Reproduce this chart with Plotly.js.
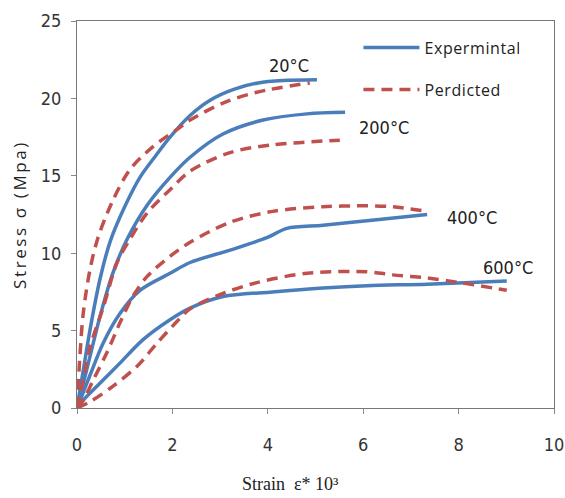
<!DOCTYPE html>
<html>
<head>
<meta charset="utf-8">
<script src="https://cdn.plot.ly/plotly-3.0.1.min.js"></script>
<style>
html,body{margin:0;padding:0;background:#fff;}
#chart{width:565px;height:498px;}
#chart .ytitle{letter-spacing:2.6px;}
#chart .legendtext{letter-spacing:0.6px;}
</style>
</head>
<body>
<div id="chart"></div>
<script>
// Experimental curves
const exp20_x = [0, 0.13, 0.27, 0.48, 0.7, 1.0, 1.32, 1.65, 1.95, 2.37, 2.8, 3.3, 3.8, 4.32, 5.03];
const exp20_y = [0, 2.4, 5.0, 8.3, 10.8, 13.0, 14.9, 16.3, 17.5, 18.9, 19.9, 20.6, 21.0, 21.15, 21.2];
const exp200_x = [0, 0.1, 0.27, 0.48, 0.75, 1.05, 1.47, 1.95, 2.37, 3.06, 3.9, 4.82, 5.62];
const exp200_y = [0, 1.2, 3.3, 5.9, 8.7, 10.9, 13.1, 14.9, 16.2, 17.7, 18.6, 19.0, 19.1];
const exp400_x = [0, 0.13, 0.27, 0.55, 0.9, 1.32, 1.95, 2.37, 3.21, 3.98, 4.4, 5.16, 6.08, 7.34];
const exp400_y = [0, 1.0, 2.1, 4.2, 6.1, 7.6, 8.7, 9.4, 10.2, 11.0, 11.6, 11.8, 12.1, 12.5];
const exp600_x = [0, 0.13, 0.48, 0.9, 1.38, 1.95, 2.37, 3.06, 4.1, 5.16, 6.08, 7.34, 9.01];
const exp600_y = [0, 0.5, 1.6, 2.9, 4.4, 5.7, 6.45, 7.2, 7.5, 7.75, 7.9, 8.0, 8.2];
// Predicted curves
const pred20_x = [0, 0.06, 0.13, 0.27, 0.44, 0.75, 1.11, 1.6, 2.1, 2.37, 3.06, 3.77, 4.88];
const pred20_y = [0, 3.3, 6.1, 8.9, 11.0, 13.4, 15.4, 16.9, 18.0, 18.6, 19.7, 20.4, 21.0];
const pred200_x = [0, 0.13, 0.27, 0.55, 0.84, 1.11, 1.47, 1.95, 2.37, 3.21, 4.1, 5.51];
const pred200_y = [0, 1.8, 3.9, 6.5, 9.4, 10.9, 12.6, 14.1, 15.3, 16.5, 17.0, 17.3];
const pred400_x = [0, 0.13, 0.34, 0.63, 0.9, 1.17, 1.47, 1.95, 2.37, 3.21, 4.1, 5.16, 6.08, 6.62, 7.34];
const pred400_y = [0, 0.5, 1.8, 3.6, 5.5, 7.2, 8.5, 9.8, 10.7, 12.0, 12.7, 13.0, 13.06, 13.0, 12.7];
const pred600_x = [0, 0.27, 0.75, 1.26, 1.68, 2.1, 2.37, 3.06, 3.77, 4.82, 6.08, 6.62, 7.34, 8.03, 9.01];
const pred600_y = [0, 0.4, 1.4, 2.7, 4.2, 5.6, 6.4, 7.4, 8.1, 8.7, 8.8, 8.6, 8.4, 8.1, 7.6];

const tempLabels = ["20\u00B0C", "200\u00B0C", "400\u00B0C", "600\u00B0C"];
const tempLabelX = [4.44, 6.44, 8.28, 9.04];
const tempLabelY = [22.1, 18.1, 12.3, 9.05];

const xTicks = [0, 2, 4, 6, 8, 10];
const yTicks = [0, 5, 10, 15, 20, 25];

const BLUE = '#4a7ebb';
const RED = '#c0504d';

function expTrace(x, y, show) {
  return {x: x, y: y, type: 'scatter', mode: 'lines', name: 'Expermintal',
    legendgroup: 'exp', showlegend: show,
    line: {color: BLUE, width: 3.5, shape: 'spline', smoothing: 0.9}};
}
function predTrace(x, y, show) {
  return {x: x, y: y, type: 'scatter', mode: 'lines', name: 'Perdicted',
    legendgroup: 'pred', showlegend: show,
    line: {color: RED, width: 3.5, dash: '11px,7px', shape: 'spline', smoothing: 0.9}};
}

const data = [
  expTrace(exp20_x, exp20_y, true),
  expTrace(exp200_x, exp200_y, false),
  expTrace(exp400_x, exp400_y, false),
  expTrace(exp600_x, exp600_y, false),
  predTrace(pred20_x, pred20_y, true),
  predTrace(pred200_x, pred200_y, false),
  predTrace(pred400_x, pred400_y, false),
  predTrace(pred600_x, pred600_y, false)
];

const narrow = '"Liberation Sans Narrow", "DejaVu Sans Condensed", "Arial Narrow", sans-serif';
const tickFont = {family: narrow, size: 18, color: '#333'};

const annotations = tempLabels.map((t, i) => ({
  x: tempLabelX[i], y: tempLabelY[i], xref: 'x', yref: 'y', text: t, showarrow: false,
  font: {family: narrow, size: 18, color: '#222'}
}));
annotations.push({
  xref: 'paper', yref: 'paper', x: (290 - 77) / (554 - 77), y: -(484 - 408) / (408 - 21),
  xanchor: 'center', yanchor: 'middle',
  text: 'Strain  \u03B5* 10\u00B3', showarrow: false,
  font: {family: '"Liberation Serif", "DejaVu Serif", serif', size: 18, color: '#222'}
});

const layout = {
  width: 565, height: 498,
  margin: {l: 77, r: 11, t: 21, b: 90},
  paper_bgcolor: '#fff', plot_bgcolor: '#fff',
  showlegend: true,
  legend: {x: 0.59, y: 0.975, xanchor: 'left', yanchor: 'top', bgcolor: 'rgba(0,0,0,0)',
    tracegroupgap: 18, itemwidth: 56,
    font: {family: '"Open Sans", "Liberation Sans", sans-serif', size: 16, color: '#222'}},
  xaxis: {range: [0, 10], tickvals: xTicks, ticks: 'outside', ticklen: 5, tickcolor: '#888',
    showgrid: false, zeroline: false, showline: true, linecolor: '#777', linewidth: 1, mirror: true,
    tickfont: tickFont, ticklabelstandoff: 15},
  yaxis: {range: [0, 25], tickvals: yTicks, ticks: 'outside', ticklen: 5, tickcolor: '#888',
    showgrid: false, zeroline: false, showline: true, linecolor: '#777', linewidth: 1, mirror: true,
    tickfont: tickFont, ticklabelstandoff: 6,
    title: {text: 'Stress \u03C3 (Mpa)', standoff: 9,
      font: {family: '"Open Sans", "Liberation Sans", sans-serif', size: 17, color: '#222'}}},
  annotations: annotations
};

Plotly.newPlot('chart', data, layout, {displayModeBar: false, staticPlot: true});
</script>
</body>
</html>
